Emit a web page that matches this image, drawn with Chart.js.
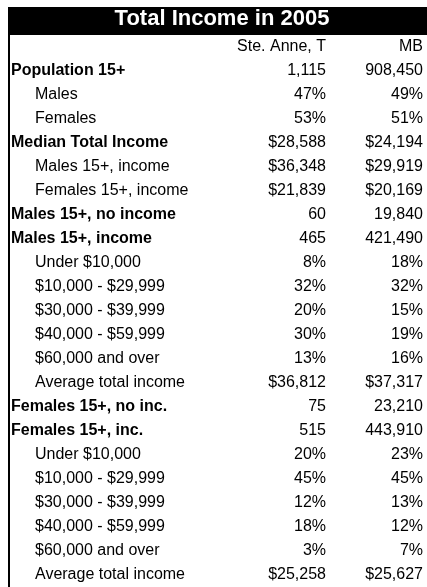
<!DOCTYPE html>
<html>
<head>
<meta charset="utf-8">
<script src="https://cdn.jsdelivr.net/npm/chart.js@4.4.1/dist/chart.umd.min.js"></script>
<style>
  html, body { margin: 0; padding: 0; background: #fff; }
  #wrap { width: 427px; height: 587px; }
</style>
</head>
<body>
<div id="wrap"><canvas id="income-table"></canvas></div>
<script>
// Table data
const columns = ['Ste. Anne, T', 'MB'];
const rowLabels = [
    'Population 15+', 'Males', 'Females', 'Median Total Income',
    'Males 15+, income', 'Females 15+, income', 'Males 15+, no income', 'Males 15+, income',
    'Under $10,000', '$10,000 - $29,999', '$30,000 - $39,999', '$40,000 - $59,999',
    '$60,000 and over', 'Average total income', 'Females 15+, no inc.', 'Females 15+, inc.',
    'Under $10,000', '$10,000 - $29,999', '$30,000 - $39,999', '$40,000 - $59,999',
    '$60,000 and over', 'Average total income'
];
const boldRows = [
    true, false, false, true,
    false, false, true, true,
    false, false, false, false,
    false, false, true, true,
    false, false, false, false,
    false, false
];
const units = [
    'n', '%', '%', '$',
    '$', '$', 'n', 'n',
    '%', '%', '%', '%',
    '%', '$', 'n', 'n',
    '%', '%', '%', '%',
    '%', '$'
];
const steAnne = [
    1115, 47, 53, 28588,
    36348, 21839, 60, 465,
    8, 32, 20, 30,
    13, 36812, 75, 515,
    20, 45, 12, 18,
    3, 25258
];
const manitoba = [
    908450, 49, 51, 24194,
    29919, 20169, 19840, 421490,
    18, 32, 15, 19,
    16, 37317, 23210, 443910,
    23, 45, 13, 12,
    7, 25627
];

function formatValue(v, unit) {
    const s = v.toLocaleString('en-US');
    if (unit === '%') return s + '%';
    if (unit === '$') return '$' + s;
    return s;
}

const FONT = '"Liberation Sans", Arial, sans-serif';
const colRight = [326, 423];

const tablePlugin = {
    id: 'tableText',
    beforeDraw(chart) {
        const c = chart.ctx;
        const tb = chart.titleBlock;
        c.save();
        c.fillStyle = '#000';
        c.fillRect(8, tb.top, chart.width - 8, tb.bottom - tb.top);
        // left rule
        c.fillRect(8, tb.bottom, 2, chart.height - tb.bottom);
        c.restore();
    },
    afterDraw(chart) {
        const c = chart.ctx;
        const y = chart.scales.y;
        c.save();
        c.fillStyle = '#000';
        c.textBaseline = 'middle';

        // header row
        c.font = '16px ' + FONT;
        c.textAlign = 'right';
        columns.forEach((col, j) => c.fillText(col, colRight[j], y.getPixelForValue(0)));

        chart.data.labels.forEach((label, i) => {
            if (i === 0) return;
            const r = i - 1;
            const py = y.getPixelForValue(i);
            c.textAlign = 'left';
            c.font = (boldRows[r] ? 'bold ' : '') + '16px ' + FONT;
            c.fillText(label, boldRows[r] ? 11 : 35, py);
            c.font = '16px ' + FONT;
            c.textAlign = 'right';
            chart.data.datasets.forEach((ds, j) => {
                c.fillText(formatValue(ds.data[i], units[r]), colRight[j], py);
            });
        });
        c.restore();
    }
};

const ctx = document.getElementById('income-table').getContext('2d');
new Chart(ctx, {
    type: 'bar',
    data: {
        labels: ['header'].concat(rowLabels),
        datasets: [
            { label: columns[0], data: [null].concat(steAnne), backgroundColor: 'transparent' },
            { label: columns[1], data: [null].concat(manitoba), backgroundColor: 'transparent' }
        ]
    },
    options: {
        indexAxis: 'y',
        responsive: true,
        maintainAspectRatio: false,
        animation: false,
        layout: { padding: { top: 7, left: 17, right: 0, bottom: 0 } },
        scales: {
            x: { display: false },
            y: { display: false, offset: true }
        },
        plugins: {
            legend: { display: false },
            tooltip: { enabled: false },
            title: {
                display: true,
                text: 'Total Income in 2005',
                color: '#fff',
                font: { family: FONT, size: 22, weight: 'bold', lineHeight: 1 },
                padding: { top: 1, bottom: 5 }
            }
        }
    },
    plugins: [tablePlugin]
});
</script>
</body>
</html>
